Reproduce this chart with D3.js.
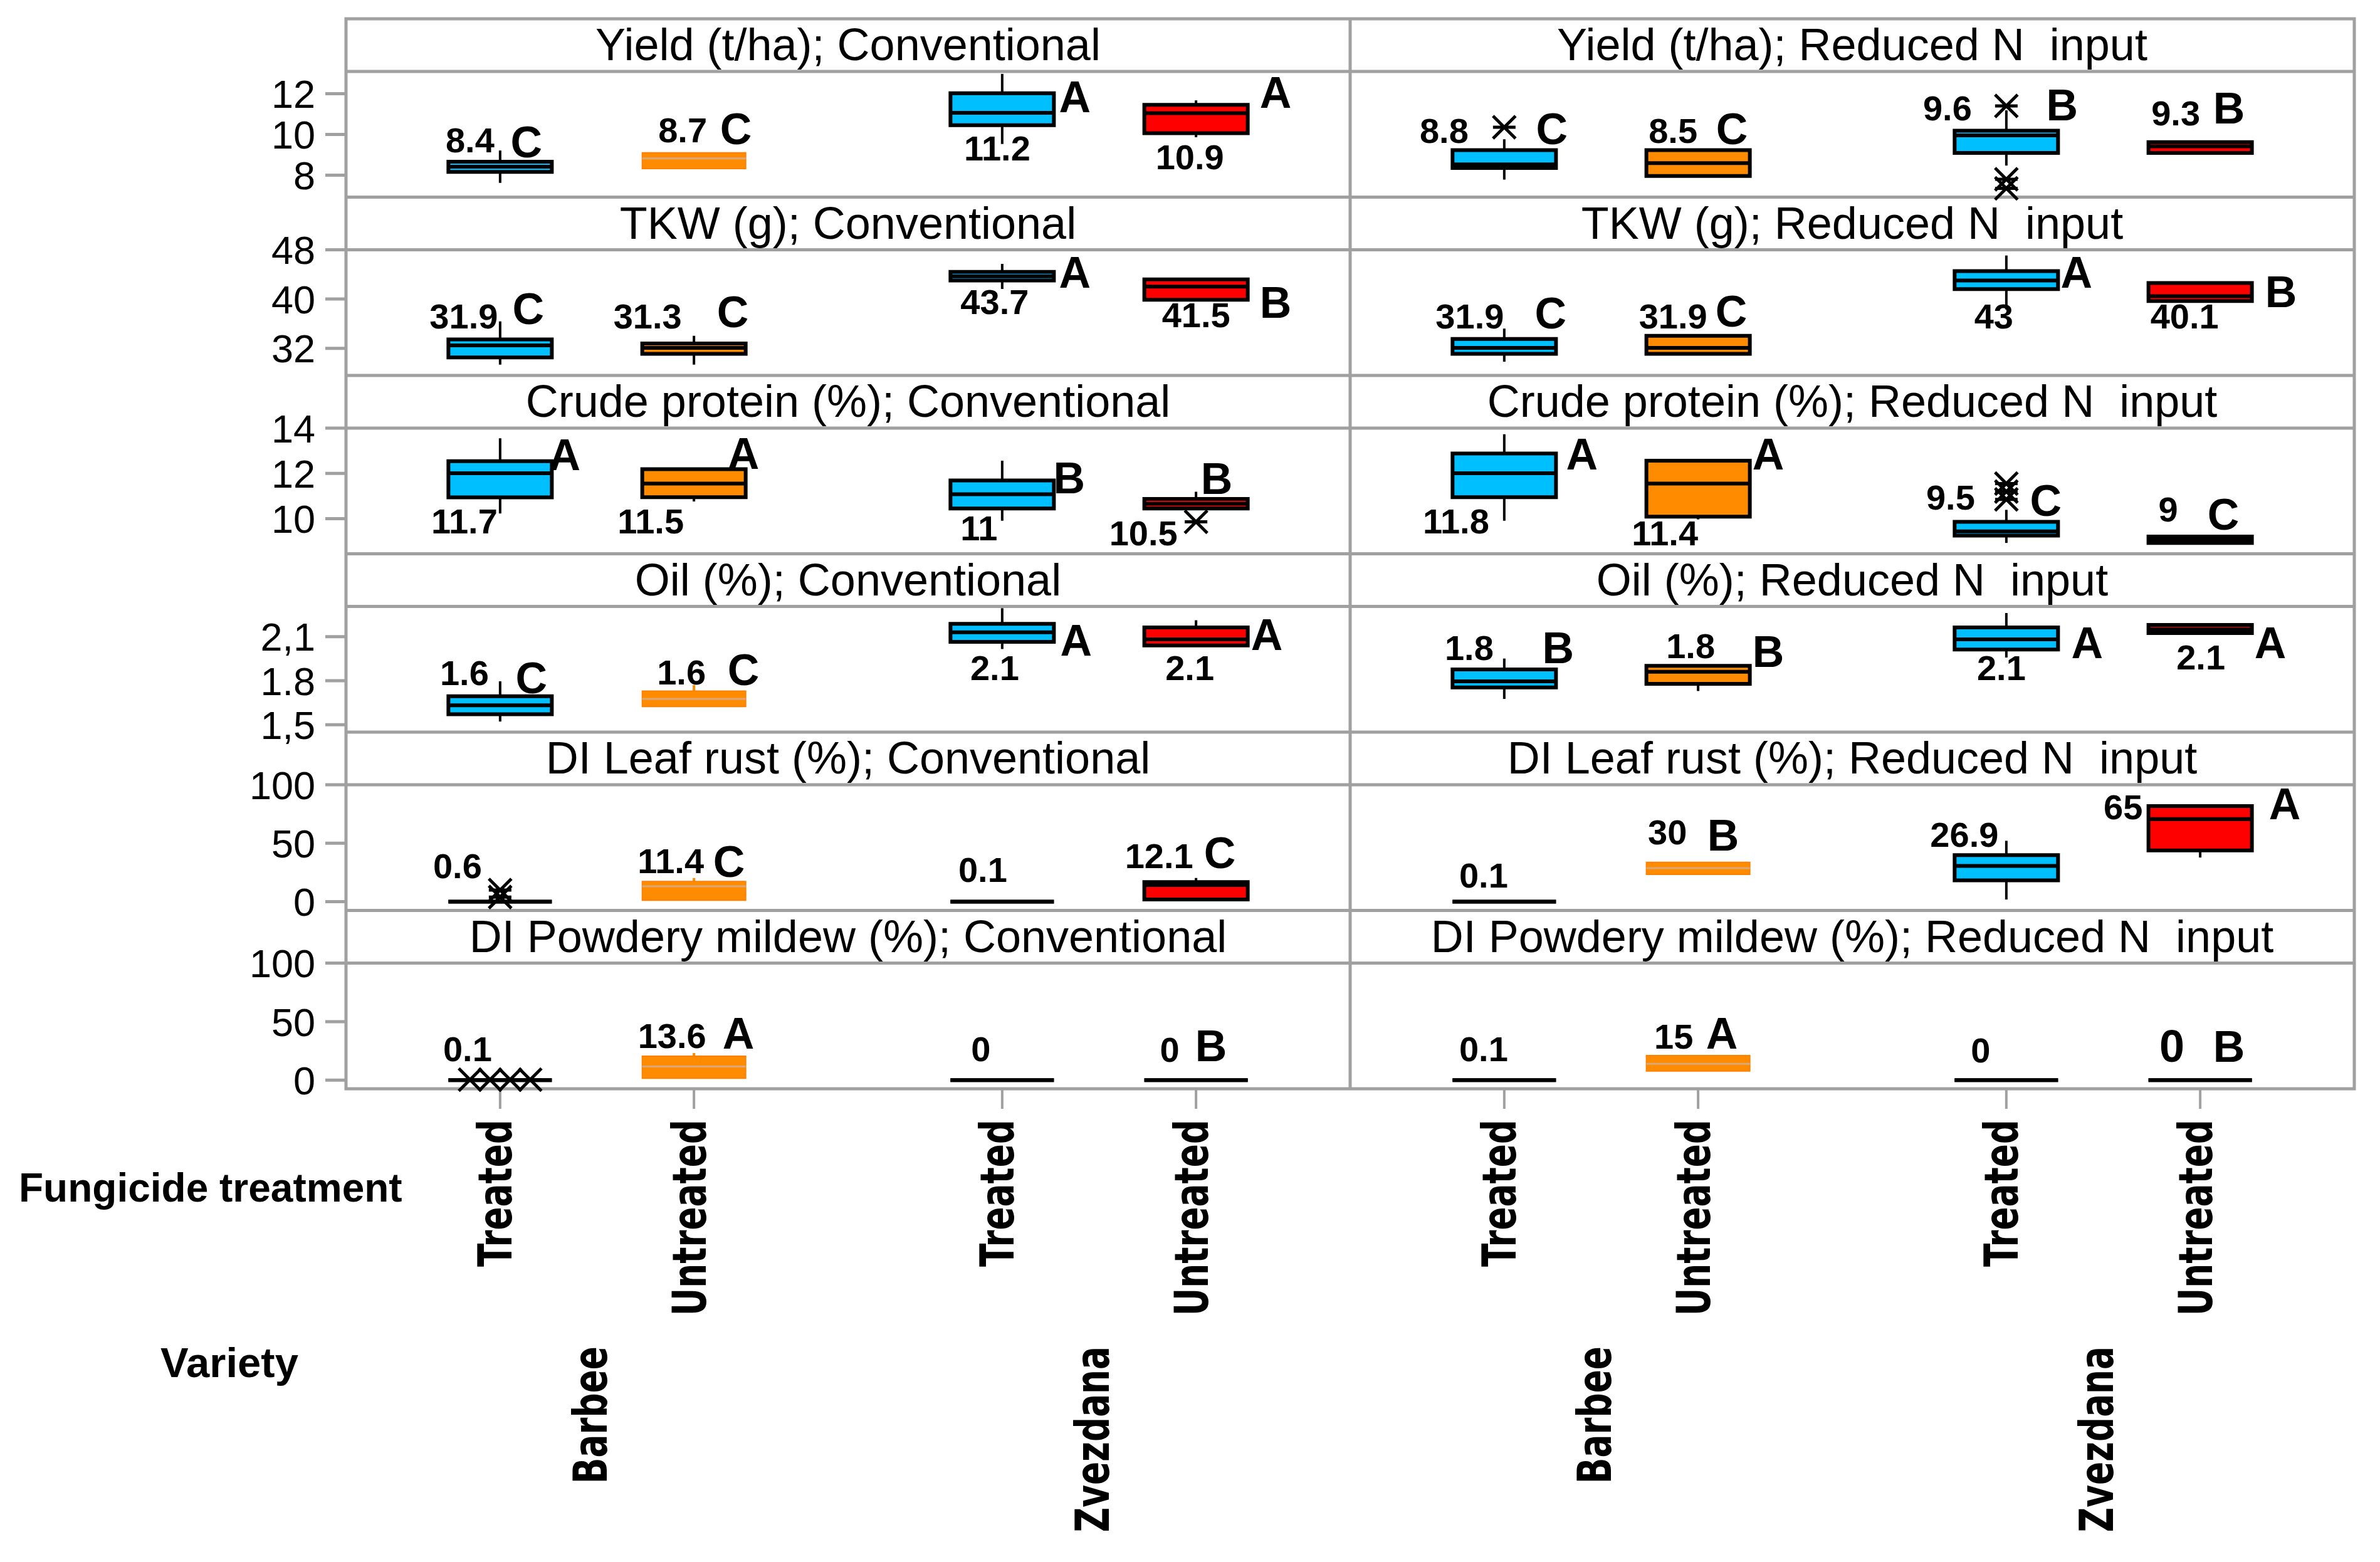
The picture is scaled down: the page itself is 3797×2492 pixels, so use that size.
<!DOCTYPE html>
<html>
<head>
<meta charset="utf-8">
<script src="https://cdn.jsdelivr.net/npm/d3@7"></script>
<style>
  body { margin: 0; background: #fff; }
  svg { display: block; }
  text { font-family: "Liberation Sans", Arial, sans-serif; }
</style>
</head>
<body>
<svg id="chart" width="3797" height="2492"></svg>
<script>
// ---------------- DATA ----------------
const metrics = ["Yield (t/ha)", "TKW (g)", "Crude protein (%)", "Oil (%)", "DI Leaf rust (%)", "DI Powdery mildew (%)"];
const nInputs = ["Conventional", "Reduced N  input"];
const varieties = ["Barbee", "Zvezdana"];
const treatments = ["Treated", "Untreated"];

// Group order in every array: Conventional (Barbee T, Barbee U, Zvezdana T, Zvezdana U), then Reduced N input (same order)
// Each box: [min, q1, median, q3, max]
const yieldBoxes = [
  [7.62, 8.16, 8.41, 8.66, 9.21], [8.32, 8.32, 8.82, 9.10, 9.10], [9.53, 10.45, 11.06, 12.02, 12.97], [9.86, 10.06, 11.04, 11.45, 11.67],
  [7.78, 8.35, 8.53, 9.23, 9.76], [7.96, 7.96, 8.59, 9.23, 9.23], [8.47, 9.09, 9.95, 10.18, 11.18], [9.09, 9.09, 9.41, 9.62, 9.62]
];
const yieldOutliers = [[], [], [], [], [10.35], [], [11.4, 7.8, 7.35], []];
const yieldMeans = ["8.4", "8.7", "11.2", "10.9", "8.8", "8.5", "9.6", "9.3"];
const yieldLetters = ["C", "C", "A", "A", "C", "C", "B", "B"];

const tkwBoxes = [
  [29.35, 30.52, 32.48, 33.44, 36.37], [29.35, 31.10, 32.07, 32.78, 34.03], [41.64, 43.0, 43.7, 44.4, 45.71], [39.87, 39.87, 42.02, 43.19, 43.19],
  [29.83, 31.10, 32.07, 33.52, 35.20], [31.10, 31.10, 32.07, 34.03, 34.03], [38.31, 41.62, 43.0, 44.54, 47.07], [39.67, 39.67, 40.46, 42.60, 42.60]
];
const tkwOutliers = [[], [], [], [], [], [], [], []];
const tkwMeans = ["31.9", "31.3", "43.7", "41.5", "31.9", "31.9", "43", "40.1"];
const tkwLetters = ["C", "C", "A", "B", "C", "C", "A", "B"];

const proteinBoxes = [
  [10.23, 10.94, 12.01, 12.54, 13.55], [10.76, 10.95, 11.55, 12.19, 12.19], [9.91, 10.45, 11.08, 11.69, 12.56], [10.45, 10.45, 10.66, 10.87, 11.19],
  [9.91, 10.95, 12.01, 12.88, 13.73], [9.97, 10.09, 11.55, 12.56, 12.56], [8.93, 9.25, 9.44, 9.86, 10.39], [8.93, 8.93, 9.08, 9.21, 9.21]
];
const proteinOutliers = [[], [], [], [9.86], [], [], [11.55, 11.2, 10.85], []];
const proteinMeans = ["11.7", "11.5", "11", "10.5", "11.8", "11.4", "9.5", "9"];
const proteinLetters = ["A", "A", "B", "B", "A", "A", "C", "C"];

const oilBoxes = [
  [1.522, 1.572, 1.632, 1.694, 1.796], [1.624, 1.624, 1.676, 1.730, 1.771], [2.016, 2.065, 2.130, 2.188, 2.294], [2.040, 2.040, 2.082, 2.163, 2.212],
  [1.676, 1.754, 1.796, 1.877, 1.951], [1.730, 1.779, 1.861, 1.902, 1.902], [1.958, 2.013, 2.082, 2.163, 2.261], [2.125, 2.125, 2.150, 2.180, 2.180]
];
const oilOutliers = [[], [], [], [], [], [], [], []];
const oilMeans = ["1.6", "1.6", "2.1", "2.1", "1.8", "1.8", "2.1", "2.1"];
const oilLetters = ["C", "C", "A", "A", "B", "B", "A", "A"];

const leafRustBoxes = [
  [0, 0, 0, 0, 0], [1.2, 1.2, 13.2, 17.3, 20.3], [0, 0, 0, 0, 0], [1.9, 1.9, 14.3, 16.8, 20.3],
  [0, 0, 0, 0, 0], [23.4, 23.4, 28.7, 33.7, 33.7], [1.9, 18.3, 30.6, 39.8, 52.1], [37.8, 43.9, 70.6, 81.8, 81.8]
];
const leafRustOutliers = [[10, 4], [], [], [], [], [], [], []];
const leafRustMeans = ["0.6", "11.4", "0.1", "12.1", "0.1", "30", "26.9", "65"];
const leafRustLetters = ["", "C", "", "C", "", "B", "", "A"];

const mildewBoxes = [
  [0, 0, 0, 0, 0], [1.6, 1.6, 11.7, 20.5, 23.2], [0, 0, 0, 0, 0], [0, 0, 0, 0, 0],
  [0, 0, 0, 0, 0], [7.8, 7.8, 14.0, 21.1, 21.1], [0, 0, 0, 0, 0], [0, 0, 0, 0, 0]
];
const mildewOutliers = [[0.4, 0.4, 0.4, 0.4], [], [], [], [], [], [], []];
const mildewMeans = ["0.1", "13.6", "0", "0", "0.1", "15", "0", "0"];
const mildewLetters = ["", "A", "", "B", "", "A", "", "B"];

// axis ticks
const yieldTicks = [8, 10, 12];        const yieldTickLabels = ["8", "10", "12"];
const tkwTicks = [32, 40, 48];         const tkwTickLabels = ["32", "40", "48"];
const proteinTicks = [10, 12, 14];     const proteinTickLabels = ["10", "12", "14"];
const oilTicks = [1.5, 1.8, 2.1];      const oilTickLabels = ["1,5", "1.8", "2,1"];
const leafRustTicks = [0, 50, 100];    const leafRustTickLabels = ["0", "50", "100"];
const mildewTicks = [0, 50, 100];      const mildewTickLabels = ["0", "50", "100"];

// ---------------- LAYOUT / STYLE ----------------
const yDomains = [[6.92, 13.09], [27.59, 48], [8.45, 14], [1.45, 2.306], [-7.45, 100], [-7.33, 100]];
// annotation placement per row & group: [mean dx(px), mean baseline (data units), letter dx(px), letter baseline (data units)]
const labelLayout = [
  [[-48, 9.12, 42, 8.88], [-18, 9.62, 67, 9.53], [-8, 8.73, 116, 11.08], [-10, 8.29, 127, 11.32],
   [-96, 9.59, 76, 9.53], [-40, 9.59, 54, 9.53], [-94, 10.70, 89, 10.70], [-39, 10.45, 46, 10.55]],
  [[-58, 35.2, 45, 35.9], [-74, 35.2, 62, 35.39], [-12, 37.54, 116, 41.82], [0, 35.39, 127, 36.96],
   [-55, 35.2, 74, 35.2], [-40, 35.2, 53, 35.58], [-20, 35.2, 112, 41.82], [-25, 35.2, 129, 38.7]],
  [[-57, 9.35, 103, 12.14], [-69, 9.35, 79, 12.19], [-37, 9.04, 107, 11.13], [-84, 8.83, 33, 11.08],
   [-77, 9.35, 124, 12.17], [-53, 8.83, 112, 12.17], [-89, 10.41, 63, 10.12], [-51, 9.88, 37, 9.52]],
  [[-57, 1.771, 50, 1.714], [-20, 1.774, 79, 1.771], [-12, 1.803, 118, 1.970], [-10, 1.803, 113, 2.008],
   [-56, 1.943, 86, 1.918], [-12, 1.954, 112, 1.894], [-8, 1.803, 129, 1.954], [1, 1.877, 112, 1.954]],
  [[-68, 20.3, 0, 0], [-37, 24.4, 56, 21.3], [-31, 16.8, 0, 0], [-59, 28.5, 38, 28.5],
   [-33, 12.1, 0, 0], [-49, 49.1, 40, 43.9], [-67, 46.9, 0, 0], [-123, 70.6, 135, 70.6]],
  [[-52, 16.4, 0, 0], [-35, 27.2, 71, 26.7], [-34, 16.0, 0, 0], [-42, 15.6, 24, 16.0],
   [-33, 16.0, 0, 0], [-39, 26.7, 38, 26.7], [-41, 15.0, 0, 0], [-45, 15.6, 46, 15.6]]
];
const noOutline = new Set(["0-1", "3-1", "4-1", "5-1", "4-5", "5-5"]);
const bigMean = new Set(["5-7"]);

const rows = [
  { boxes: yieldBoxes, out: yieldOutliers, means: yieldMeans, letters: yieldLetters, ticks: yieldTicks, tl: yieldTickLabels },
  { boxes: tkwBoxes, out: tkwOutliers, means: tkwMeans, letters: tkwLetters, ticks: tkwTicks, tl: tkwTickLabels },
  { boxes: proteinBoxes, out: proteinOutliers, means: proteinMeans, letters: proteinLetters, ticks: proteinTicks, tl: proteinTickLabels },
  { boxes: oilBoxes, out: oilOutliers, means: oilMeans, letters: oilLetters, ticks: oilTicks, tl: oilTickLabels },
  { boxes: leafRustBoxes, out: leafRustOutliers, means: leafRustMeans, letters: leafRustLetters, ticks: leafRustTicks, tl: leafRustTickLabels },
  { boxes: mildewBoxes, out: mildewOutliers, means: mildewMeans, letters: mildewLetters, ticks: mildewTicks, tl: mildewTickLabels }
];

const W = 3797, H = 2492;
const frameL = 552, frameR = 3756, frameT = 30, rowH = 284.5, headH = 84;
const frameB = frameT + rowH * metrics.length;
const GRAY = "#a0a0a0";
const BLUE = "#00bfff", ORANGE = "#ff8c00", RED = "#ff0000";
const boxHalf = 82.5;

const svg = d3.select("#chart");
svg.append("rect").attr("width", W).attr("height", H).attr("fill", "#fff");

const xPanel = d3.scaleBand().domain(nInputs).range([frameL, frameR]);
const xVar = d3.scaleBand().domain(varieties).range([0, xPanel.bandwidth()]);
const xTrt = d3.scalePoint().domain(treatments).range([0, xVar.bandwidth()]).padding(0.795);

const groups = [];
nInputs.forEach(n => varieties.forEach(v => treatments.forEach(t => groups.push({ n, v, t }))));
const gx = g => xPanel(g.n) + xVar(g.v) + xTrt(g.t);
const colorOf = g => g.t === "Treated" ? BLUE : (g.v === "Barbee" ? ORANGE : RED);

const gFrame = svg.append("g");
const gMarks = svg.append("g");
const gText = svg.append("g");

rows.forEach((row, r) => {
  const rowTop = frameT + r * rowH;
  const plotTop = rowTop + headH, plotBot = rowTop + rowH;
  const y = d3.scaleLinear().domain(yDomains[r]).range([plotBot, plotTop]);

  // header text
  nInputs.forEach(n => {
    gText.append("text")
      .attr("x", xPanel(n) + xPanel.bandwidth() / 2).attr("y", rowTop + 66)
      .attr("text-anchor", "middle").attr("font-size", 72)
      .style("white-space", "pre")
      .text(metrics[r] + "; " + n);
  });

  // horizontal grid lines
  if (r > 0) gFrame.append("line").attr("x1", frameL).attr("x2", frameR).attr("y1", rowTop).attr("y2", rowTop)
    .attr("stroke", GRAY).attr("stroke-width", 5);
  gFrame.append("line").attr("x1", frameL).attr("x2", frameR).attr("y1", plotTop).attr("y2", plotTop)
    .attr("stroke", GRAY).attr("stroke-width", 5);

  // y axis ticks
  row.ticks.forEach((t, i) => {
    gFrame.append("line").attr("x1", frameL - 33).attr("x2", frameL).attr("y1", y(t)).attr("y2", y(t))
      .attr("stroke", GRAY).attr("stroke-width", 5);
    gText.append("text").attr("x", frameL - 49).attr("y", y(t)).attr("dy", "0.36em")
      .attr("text-anchor", "end").attr("font-size", 63).text(row.tl[i]);
  });

  // boxes
  groups.forEach((g, i) => {
    const [mn, q1, md, q3, mx] = row.boxes[i];
    const cx = gx(g);
    const col = colorOf(g);
    const plain = noOutline.has(r + "-" + i);
    const lineCol = plain ? col : "#000";
    const gb = gMarks.append("g");
    if (mx > q3) gb.append("line").attr("x1", cx).attr("x2", cx).attr("y1", y(q3)).attr("y2", y(mx))
      .attr("stroke", lineCol).attr("stroke-width", 4);
    if (mn < q1) gb.append("line").attr("x1", cx).attr("x2", cx).attr("y1", y(q1)).attr("y2", y(mn))
      .attr("stroke", lineCol).attr("stroke-width", 4);
    const x0 = cx - boxHalf, x1 = cx + boxHalf;
    gb.append("path")
      .attr("d", `M${x0},${y(q3)}H${x1}V${y(q1)}H${x0}Z`)
      .attr("fill", col)
      .attr("stroke", plain ? "#ff8000" : "#000")
      .attr("stroke-width", plain ? 2 : 6)
      .attr("stroke-linejoin", "miter");
    gb.append("line").attr("x1", x0).attr("x2", x1).attr("y1", y(md)).attr("y2", y(md))
      .attr("stroke", plain ? "#d8a878" : "#000").attr("stroke-width", plain ? 3 : 6);

    // outliers
    const outs = row.out[i];
    outs.forEach((v, k) => {
      const same = outs.filter(o => o === v);
      const idx = outs.slice(0, k).filter(o => o === v).length;
      const ox = cx + (same.length > 1 ? (idx - (same.length - 1) / 2) * 32 : 0);
      const oy = y(v), s = 18;
      gb.append("path")
        .attr("d", `M${ox - s},${oy - s}L${ox + s},${oy + s}M${ox - s},${oy + s}L${ox + s},${oy - s}M${ox - s},${oy}H${ox + s}`)
        .attr("stroke", "#000").attr("stroke-width", 5).attr("fill", "none");
    });

    // annotations
    const L = labelLayout[r][i];
    gText.append("text").attr("x", cx + L[0]).attr("y", y(L[1]))
      .attr("text-anchor", "middle").attr("font-weight", "bold")
      .attr("font-size", bigMean.has(r + "-" + i) ? 72 : 56)
      .text(row.means[i]);
    if (row.letters[i]) {
      gText.append("text").attr("x", cx + L[2]).attr("y", y(L[3]))
        .attr("text-anchor", "middle").attr("font-weight", "bold").attr("font-size", 70)
        .text(row.letters[i]);
    }
  });
});

// outer frame and panel divider
gFrame.append("rect").attr("x", frameL).attr("y", frameT).attr("width", frameR - frameL).attr("height", frameB - frameT)
  .attr("fill", "none").attr("stroke", GRAY).attr("stroke-width", 5);
gFrame.append("line").attr("x1", xPanel(nInputs[1])).attr("x2", xPanel(nInputs[1]))
  .attr("y1", frameT).attr("y2", frameB).attr("stroke", GRAY).attr("stroke-width", 5);

// x-axis ticks and category labels
const rotText = (x, yEnd, txt, size) => {
  gText.append("g").attr("transform", `translate(${x},${yEnd}) rotate(-90) scale(0.73,1)`)
    .append("text").attr("x", 0).attr("y", 0).attr("dy", "0.365em")
    .attr("text-anchor", "end").attr("font-weight", "bold").attr("font-size", size)
    .style("font-family", "'DejaVu Sans', Verdana, sans-serif")
    .text(txt);
};
groups.forEach(g => {
  const cx = gx(g);
  gFrame.append("line").attr("x1", cx).attr("x2", cx).attr("y1", frameB).attr("y2", frameB + 32)
    .attr("stroke", GRAY).attr("stroke-width", 4);
  rotText(cx - 9, 1786, g.t, 75);
});
nInputs.forEach(n => varieties.forEach(v => {
  rotText(xPanel(n) + xVar(v) + xVar.bandwidth() / 2 - 12, 2148, v, 75);
}));

gText.append("text").attr("x", 30).attr("y", 1917).attr("font-weight", "bold").attr("font-size", 64)
  .text("Fungicide treatment");
gText.append("text").attr("x", 366).attr("y", 2197).attr("text-anchor", "middle").attr("font-weight", "bold").attr("font-size", 67)
  .text("Variety");
</script>
</body>
</html>
